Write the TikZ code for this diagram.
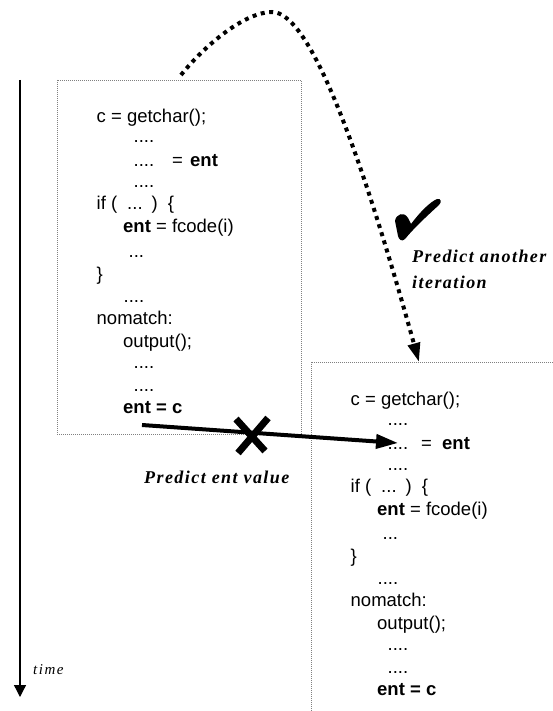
\documentclass[tikz,border=0pt]{standalone}
\usepackage{fontspec}
\setmainfont{Liberation Sans}
\newfontfamily\lblfont{Liberation Serif}[LetterSpace=8]
\newfontfamily\timefont{Liberation Serif}[LetterSpace=10]
\usetikzlibrary{arrows.meta}
\tikzset{
  code/.style={anchor=base west, inner sep=0pt, font=\fontsize{18.5}{22}\selectfont},
  lbl/.style={anchor=base west, inner sep=0pt, font=\lblfont\fontsize{18}{22}\selectfont\bfseries\itshape},
  timelbl/.style={anchor=base west, inner sep=0pt, font=\timefont\fontsize{15}{18}\selectfont\itshape},
  boxline/.style={draw=gray, line width=0.8pt, dash pattern=on 1pt off 1pt},
  bigarrow/.style={line width=4pt, -{Triangle[length=22pt,width=14pt]}},
  dotarrow/.style={line width=4pt, dash pattern=on 4pt off 4.5pt, -{Triangle[length=19pt,width=12pt]}},
  timearrow/.style={line width=1.3pt, -{Triangle[length=12pt,width=12pt]}},
}
\newcommand{\mycodelines}[3]{%
  \node[code] (#1a) at (96.5,123) {c = getchar();};
  \node[code] (#1b) at (133.5,143) {....};
  \node[code] (#1c) at (133.5,167) {....};
  \node[code] (#1d) at (#2,167) {=};
  \node[code] (#1e) at (#3,167) {\textbf{ent}};
  \node[code] (#1f) at (133.5,188) {....};
  \node[code] (#1g) at (96.5,210) {if (\hspace{10pt}...\hspace{9pt})\hspace{10pt}\{};
  \node[code] (#1h) at (123,233) {\textbf{ent} = fcode(i)};
  \node[code] (#1i) at (128.5,257) {...};
  \node[code] (#1j) at (96.5,280) {\}};
  \node[code] (#1k) at (123.5,302) {....};
  \node[code] (#1l) at (96.5,324) {nomatch:};
  \node[code] (#1m) at (123,347) {output();};
  \node[code] (#1n) at (133.5,368) {....};
  \node[code] (#1o) at (133.5,391) {....};
  \node[code] (#1p) at (123,413) {\textbf{ent = c}};
}
\begin{document}
\begin{tikzpicture}[x=1pt,y=-1pt]
\useasboundingbox[fill=white] (0,0) rectangle (553,711);

% time axis
\coordinate (tTop) at (20,80);
\coordinate (tBot) at (20,697);
\draw[timearrow] (tTop) -- (tBot);
\node[timelbl] (tm) at (33,674) {time};

% boxes
\draw[boxline] (57,80) rectangle (301,434);
\draw[boxline] (553,362) -- (311,362) -- (311,711);

% code
\mycodelines{p}{172}{190}
\begin{scope}[shift={(254,282)}]
  \mycodelines{q}{167}{188}
\end{scope}

% predicted value arrow
\coordinate (arrS) at (142,425);
\coordinate (arrE) at (398,443);
\draw[bigarrow] (arrS) -- (arrE);

% cross
\draw[line width=7pt] (236,419) -- (265,451);
\draw[line width=7pt] (268,418) -- (238,453);

\node[lbl] (pv) at (144,483) {Predict ent value};

% iteration arrow
\coordinate (loopS) at (181,75);
\coordinate (loopT) at (272,12);
\coordinate (loopE) at (419,362);
\draw[dotarrow] (loopS) .. controls (205,45) and (245,12) .. (loopT)
  .. controls (310,12) and (360,150) .. (loopE);

% check mark
\fill (395,221) .. controls (396,214) and (404,211) .. (408,218)
  -- (411,224)
  .. controls (420,212) and (430,202) .. (437,199)
  .. controls (441,198) and (442,202) .. (439,205)
  .. controls (428,215) and (414,228) .. (405,239)
  .. controls (402,242) and (399,240) .. (398,236)
  -- cycle;

\node[lbl] (pa) at (412,262) {Predict another};
\node[lbl] (it) at (412,288) {iteration};
\end{tikzpicture}
\end{document}
